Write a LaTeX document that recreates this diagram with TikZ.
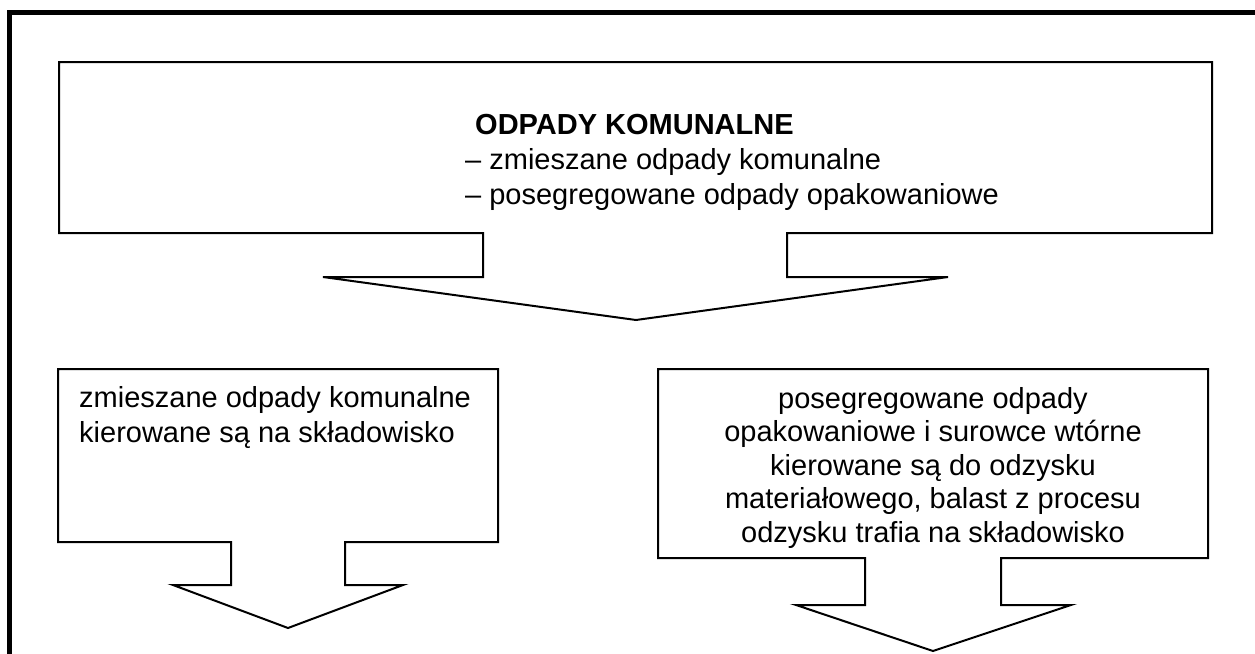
\documentclass[tikz,border=0pt]{standalone}
\usepackage{fontspec}
\setmainfont{Liberation Sans}
\begin{document}
\begin{tikzpicture}[x=1pt,y=-1pt,
  callout/.style={draw=black, line width=2pt, fill=white, line join=miter},
  frame/.style={draw=black, line width=5pt},
  txt/.style={font=\fontsize{29}{35}\selectfont, inner sep=0pt, anchor=base west},
  ctxt/.style={font=\fontsize{29}{35}\selectfont, inner sep=0pt, anchor=base}]
\useasboundingbox (0,0) rectangle (1255,653);
\fill[white] (0,0) rectangle (1255,653);
% outer frame (left and top edges visible)
\draw[frame] (9.5,670) -- (9.5,12.5) -- (1270,12.5);
% top callout
\draw[callout] (59,62) -- (1212,62) -- (1212,233) -- (787,233) -- (787,277) -- (948,277)
  -- (636,320) -- (323,277) -- (483,277) -- (483,233) -- (59,233) -- cycle;
\node[txt, font=\fontsize{29}{35}\selectfont\bfseries] (t0) at (475,134) {ODPADY KOMUNALNE};
\node[txt] (t1) at (465,169) {– zmieszane odpady komunalne};
\node[txt] (t2) at (465,204) {– posegregowane odpady opakowaniowe};
% left callout
\draw[callout] (58,369) -- (498,369) -- (498,542) -- (345,542) -- (345,585) -- (403,585)
  -- (288,628) -- (173,585) -- (231,585) -- (231,542) -- (58,542) -- cycle;
\node[txt] (l1) at (79,407) {zmieszane odpady komunalne};
\node[txt] (l2) at (79,442) {kierowane są na składowisko};
% right callout
\draw[callout] (658,369) -- (1208,369) -- (1208,558) -- (1001,558) -- (1001,605) -- (1071,605)
  -- (933,651) -- (796,605) -- (865,605) -- (865,558) -- (658,558) -- cycle;
\node[ctxt] (r1) at (933,408) {posegregowane odpady};
\node[ctxt] (r2) at (933,441.5) {opakowaniowe i surowce wtórne};
\node[ctxt] (r3) at (933,475) {kierowane są do odzysku};
\node[ctxt] (r4) at (933,508.5) {materiałowego, balast z procesu};
\node[ctxt] (r5) at (933,542) {odzysku trafia na składowisko};
\end{tikzpicture}
\end{document}
